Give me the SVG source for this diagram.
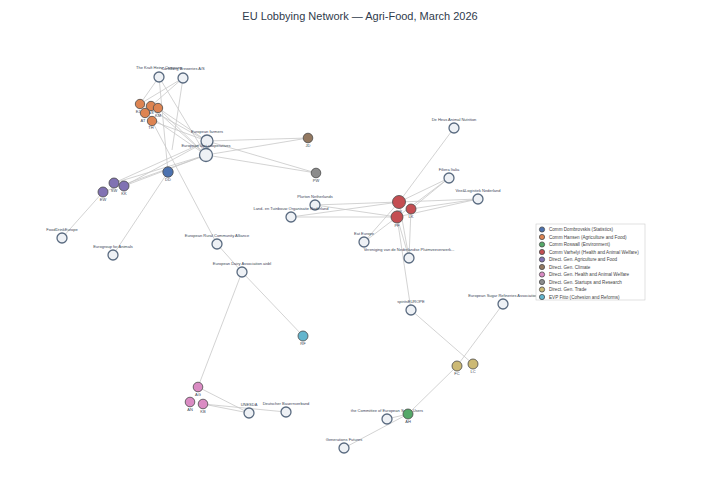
<svg xmlns="http://www.w3.org/2000/svg" width="720" height="504" viewBox="0 0 720 504">
<style>
.bg{fill:#ffffff}
.title{font-family:"Liberation Sans",Arial,sans-serif;font-size:11px;fill:#2f3b4c;text-anchor:middle}
.e{stroke:#c8c8c8;stroke-width:0.8;fill:none}
.org{fill:#eef1f5;stroke:#5a6b80;stroke-width:1.3}
.p{stroke:#4a4a4a;stroke-width:0.8}
.lbl{font-family:"Liberation Sans",Arial,sans-serif;font-size:4px;fill:#3a4656;text-anchor:middle}
.lg{font-family:"Liberation Sans",Arial,sans-serif;font-size:4.6px;fill:#444;}
.c1{fill:#4c72b0}.c2{fill:#dd8452}.c3{fill:#55a868}.c4{fill:#c44e52}.c5{fill:#8172b3}
.c6{fill:#937860}.c7{fill:#da8bc3}.c8{fill:#8c8c8c}.c9{fill:#ccb974}.c10{fill:#64b5cd}
</style>
<rect class="bg" x="0" y="0" width="720" height="504"/>
<text class="title" x="360" y="20">EU Lobbying Network — Agri-Food, March 2026</text>
<g id="connectors">
<line class="e" x1="159" y1="77" x2="140" y2="104"/>
<line class="e" x1="159" y1="77" x2="206" y2="155"/>
<line class="e" x1="159" y1="77" x2="168" y2="172"/>
<line class="e" x1="183" y1="78" x2="151" y2="106"/>
<line class="e" x1="183" y1="78" x2="140" y2="104"/>
<line class="e" x1="183" y1="78" x2="172" y2="150"/>
<line class="e" x1="140" y1="104" x2="207" y2="141"/>
<line class="e" x1="151" y1="106" x2="206" y2="155"/>
<line class="e" x1="158" y1="108" x2="207" y2="141"/>
<line class="e" x1="158" y1="108" x2="206" y2="155"/>
<line class="e" x1="145" y1="113" x2="206" y2="155"/>
<line class="e" x1="152" y1="121" x2="207" y2="141"/>
<line class="e" x1="152" y1="121" x2="217" y2="244"/>
<line class="e" x1="207" y1="141" x2="308" y2="138"/>
<line class="e" x1="206" y1="155" x2="308" y2="138"/>
<line class="e" x1="207" y1="141" x2="316" y2="173"/>
<line class="e" x1="206" y1="155" x2="316" y2="173"/>
<line class="e" x1="114" y1="183" x2="207" y2="141"/>
<line class="e" x1="114" y1="183" x2="206" y2="155"/>
<line class="e" x1="124" y1="186" x2="207" y2="141"/>
<line class="e" x1="124" y1="186" x2="206" y2="155"/>
<line class="e" x1="103" y1="192" x2="206" y2="155"/>
<line class="e" x1="103" y1="192" x2="62" y2="238"/>
<line class="e" x1="168" y1="172" x2="113" y2="255"/>
<line class="e" x1="217" y1="244" x2="242" y2="272"/>
<line class="e" x1="242" y1="272" x2="303" y2="336"/>
<line class="e" x1="242" y1="272" x2="198" y2="387"/>
<line class="e" x1="203" y1="404" x2="249" y2="413"/>
<line class="e" x1="198" y1="387" x2="249" y2="413"/>
<line class="e" x1="203" y1="404" x2="286" y2="412"/>
<line class="e" x1="399" y1="202" x2="454" y2="128"/>
<line class="e" x1="399" y1="202" x2="364" y2="242"/>
<line class="e" x1="397" y1="217" x2="364" y2="242"/>
<line class="e" x1="399" y1="202" x2="449" y2="178"/>
<line class="e" x1="411" y1="209" x2="449" y2="178"/>
<line class="e" x1="397" y1="217" x2="449" y2="178"/>
<line class="e" x1="399" y1="202" x2="478" y2="199"/>
<line class="e" x1="411" y1="209" x2="478" y2="199"/>
<line class="e" x1="397" y1="217" x2="478" y2="199"/>
<line class="e" x1="399" y1="202" x2="315" y2="205"/>
<line class="e" x1="397" y1="217" x2="315" y2="205"/>
<line class="e" x1="399" y1="202" x2="291" y2="217"/>
<line class="e" x1="397" y1="217" x2="291" y2="217"/>
<line class="e" x1="399" y1="202" x2="409" y2="258"/>
<line class="e" x1="411" y1="209" x2="409" y2="258"/>
<line class="e" x1="397" y1="217" x2="409" y2="258"/>
<line class="e" x1="397" y1="217" x2="411" y2="310"/>
<line class="e" x1="411" y1="310" x2="473" y2="364"/>
<line class="e" x1="503" y1="304" x2="457" y2="366"/>
<line class="e" x1="457" y1="366" x2="408" y2="414"/>
<line class="e" x1="408" y1="414" x2="387" y2="419"/>
<line class="e" x1="408" y1="414" x2="344" y2="448"/>
</g>
<g id="n-kraft"><circle class="org" cx="159" cy="77" r="5"/><text class="lbl" x="159" y="69">The Kraft Heinz Company</text></g>
<g id="n-carlsberg"><circle class="org" cx="183" cy="78" r="5"/><text class="lbl" x="183" y="70">Carlsberg Breweries A/S</text></g>
<g id="n-farmers"><circle class="org" cx="207" cy="141" r="6"/><text class="lbl" x="207" y="133">European farmers</text></g>
<g id="n-agricoop"><circle class="org" cx="206" cy="155" r="6.5"/><text class="lbl" x="206" y="147">European agri-cooperatives</text></g>
<g id="n-fooddrink"><circle class="org" cx="62" cy="238" r="5"/><text class="lbl" x="62" y="231">FoodDrinkEurope</text></g>
<g id="n-eurogroup"><circle class="org" cx="113" cy="255" r="5"/><text class="lbl" x="113" y="248">Eurogroup for Animals</text></g>
<g id="n-rural"><circle class="org" cx="217" cy="244" r="5"/><text class="lbl" x="217" y="237">European Rural Community Alliance</text></g>
<g id="n-dairy"><circle class="org" cx="242" cy="272" r="5"/><text class="lbl" x="242" y="265">European Dairy Association aisbl</text></g>
<g id="n-unesda"><circle class="org" cx="249" cy="413" r="5"/><text class="lbl" x="249" y="406">UNESDA</text></g>
<g id="n-dbv"><circle class="org" cx="286" cy="412" r="5"/><text class="lbl" x="286" y="405">Deutscher Bauernverband</text></g>
<g id="n-plurton"><circle class="org" cx="315" cy="205" r="5"/><text class="lbl" x="315" y="198">Plurton Netherlands</text></g>
<g id="n-lto"><circle class="org" cx="291" cy="217" r="5"/><text class="lbl" x="291" y="210">Land- en Tuinbouw Organisatie Nederland</text></g>
<g id="n-deheus"><circle class="org" cx="454" cy="128" r="5"/><text class="lbl" x="454" y="121">De Heus Animal Nutrition</text></g>
<g id="n-filiera"><circle class="org" cx="449" cy="178" r="5"/><text class="lbl" x="449" y="171">Filiera Italia</text></g>
<g id="n-vee"><circle class="org" cx="478" cy="199" r="5"/><text class="lbl" x="478" y="192">Vee&amp;Logistiek Nederland</text></g>
<g id="n-eateurope"><circle class="org" cx="364" cy="242" r="5"/><text class="lbl" x="364" y="235">Eat Europe</text></g>
<g id="n-vereniging"><circle class="org" cx="409" cy="258" r="5"/><text class="lbl" x="409" y="251">Vereniging van de Nederlandse Pluimveeverwerk...</text></g>
<g id="n-spirits"><circle class="org" cx="411" cy="310" r="5"/><text class="lbl" x="411" y="303">spiritsEUROPE</text></g>
<g id="n-sugarref"><circle class="org" cx="503" cy="304" r="5"/><text class="lbl" x="503" y="297">European Sugar Refineries Association</text></g>
<g id="n-cesu"><circle class="org" cx="387" cy="419" r="5"/><text class="lbl" x="387" y="412">the Committee of European Sugar Users</text></g>
<g id="n-genfut"><circle class="org" cx="344" cy="448" r="5"/><text class="lbl" x="344" y="441">Generations Futures</text></g>
<g id="p-o1"><circle class="p c2" cx="140" cy="104" r="4.7"/><text class="lbl" x="138" y="113">EJ</text></g>
<g id="p-o2"><circle class="p c2" cx="151" cy="106" r="4.7"/><text class="lbl" x="151" y="114">AS</text></g>
<g id="p-o3"><circle class="p c2" cx="158" cy="108" r="4.7"/><text class="lbl" x="158" y="117">KM</text></g>
<g id="p-o4"><circle class="p c2" cx="145" cy="113" r="4.7"/><text class="lbl" x="143" y="122">AT</text></g>
<g id="p-o5"><circle class="p c2" cx="152" cy="121" r="4.7"/><text class="lbl" x="151" y="129">TH</text></g>
<g id="p-dd"><circle class="p c1" cx="168" cy="172" r="5.2"/><text class="lbl" x="168" y="181">DD</text></g>
<g id="p-sw"><circle class="p c5" cx="114" cy="183" r="5"/><text class="lbl" x="114" y="192">SW</text></g>
<g id="p-kk"><circle class="p c5" cx="124" cy="186" r="5"/><text class="lbl" x="124" y="195">KK</text></g>
<g id="p-ew"><circle class="p c5" cx="103" cy="192" r="5"/><text class="lbl" x="103" y="201">EW</text></g>
<g id="p-jd"><circle class="p c6" cx="308" cy="138" r="4.8"/><text class="lbl" x="308" y="147">JD</text></g>
<g id="p-pw"><circle class="p c8" cx="316" cy="173" r="4.8"/><text class="lbl" x="316" y="182">PW</text></g>
<g id="p-r1"><circle class="p c4" cx="399" cy="202" r="6.5"/><text class="lbl" x="399" y="213">OV</text></g>
<g id="p-lk"><circle class="p c4" cx="411" cy="209" r="5"/><text class="lbl" x="411" y="218">LK</text></g>
<g id="p-pf"><circle class="p c4" cx="397" cy="217" r="6"/><text class="lbl" x="397" y="227">PF</text></g>
<g id="p-rf"><circle class="p c10" cx="303" cy="336" r="5"/><text class="lbl" x="303" y="345">RF</text></g>
<g id="p-ag"><circle class="p c7" cx="198" cy="387" r="4.8"/><text class="lbl" x="198" y="396">AG</text></g>
<g id="p-an"><circle class="p c7" cx="190" cy="402" r="4.8"/><text class="lbl" x="190" y="411">AN</text></g>
<g id="p-kb"><circle class="p c7" cx="203" cy="404" r="4.8"/><text class="lbl" x="203" y="413">KB</text></g>
<g id="p-ah"><circle class="p c3" cx="408" cy="414" r="5"/><text class="lbl" x="408" y="423">AH</text></g>
<g id="p-fc"><circle class="p c9" cx="457" cy="366" r="5"/><text class="lbl" x="457" y="375">FC</text></g>
<g id="p-lc"><circle class="p c9" cx="473" cy="364" r="5"/><text class="lbl" x="473" y="373">LC</text></g>
<g id="legend">
<rect x="536" y="224" width="109" height="76" fill="#ffffff" stroke="#cccccc" stroke-width="0.6"/>
<circle class="p c1" cx="542" cy="229.5" r="2.6"/><text class="lg" x="549" y="231.2">Comm Dombrovskis (Statistics)</text>
<circle class="p c2" cx="542" cy="237" r="2.6"/><text class="lg" x="549" y="238.7">Comm Hansen (Agriculture and Food)</text>
<circle class="p c3" cx="542" cy="244.5" r="2.6"/><text class="lg" x="549" y="246.2">Comm Roswall (Environment)</text>
<circle class="p c4" cx="542" cy="252" r="2.6"/><text class="lg" x="549" y="253.7">Comm Varhelyi (Health and Animal Welfare)</text>
<circle class="p c5" cx="542" cy="259.5" r="2.6"/><text class="lg" x="549" y="261.2">Direct. Gen. Agriculture and Food</text>
<circle class="p c6" cx="542" cy="267" r="2.6"/><text class="lg" x="549" y="268.7">Direct. Gen. Climate</text>
<circle class="p c7" cx="542" cy="274.5" r="2.6"/><text class="lg" x="549" y="276.2">Direct. Gen. Health and Animal Welfare</text>
<circle class="p c8" cx="542" cy="282" r="2.6"/><text class="lg" x="549" y="283.7">Direct. Gen. Startups and Research</text>
<circle class="p c9" cx="542" cy="289.5" r="2.6"/><text class="lg" x="549" y="291.2">Direct. Gen. Trade</text>
<circle class="p c10" cx="542" cy="297" r="2.6"/><text class="lg" x="549" y="298.7">EVP Fitto (Cohesion and Reforms)</text>
</g>
</svg>
